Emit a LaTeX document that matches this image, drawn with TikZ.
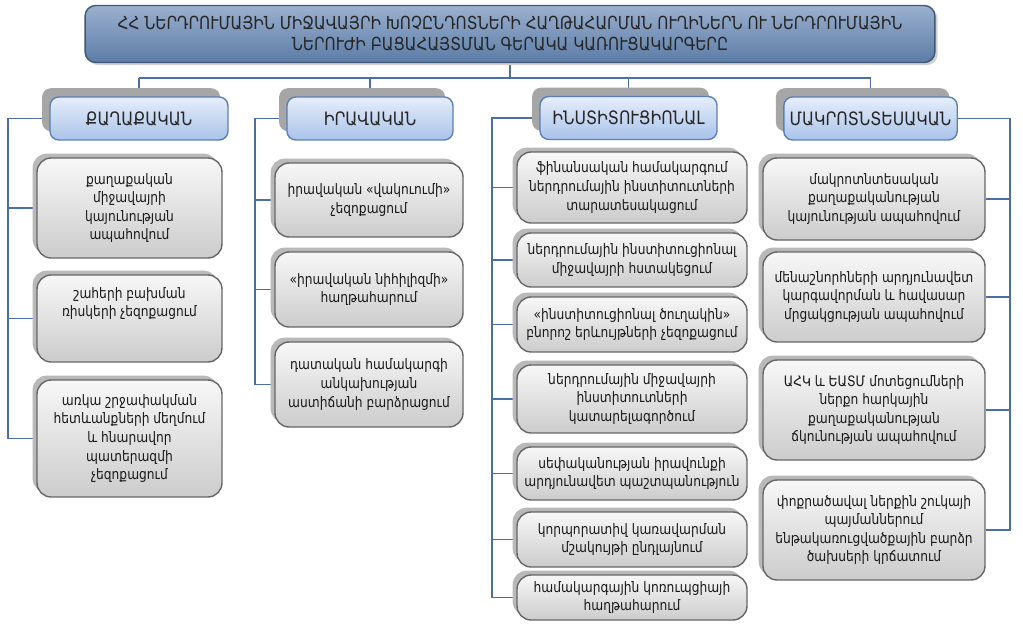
\documentclass[tikz,border=0pt]{standalone}
\usepackage{fontspec}
\setmainfont{DejaVu Sans}[FakeStretch=0.85]
\usetikzlibrary{shadows,backgrounds}

\definecolor{linkblue}{HTML}{4A6FA5}
\definecolor{titletop}{HTML}{9AB0CF}
\definecolor{titlebot}{HTML}{5C7CA6}
\definecolor{titleline}{HTML}{3F5877}
\definecolor{headtop}{HTML}{E6EEFA}
\definecolor{headbot}{HTML}{A9C3EA}
\definecolor{headline}{HTML}{5A7EB8}

\tikzset{
  titlebox/.style={draw=titleline, line width=0.8pt, rounded corners=6pt, top color=titletop, bottom color=titlebot, text=black!85, align=center, font=\fontsize{10.2}{12}\selectfont, general shadow={fill=gray!35, shadow xshift=1.5pt, shadow yshift=-1.5pt}},
  headbox/.style={draw=headline, line width=0.8pt, rounded corners=5pt, top color=headtop, bottom color=headbot, text=black!85, minimum height=0.86cm, font=\fontsize{10.5}{12}\selectfont, general shadow={fill=gray!70, shadow xshift=-4.5pt, shadow yshift=5pt}},
  itembox/.style={draw=black!60, line width=0.8pt, rounded corners=8pt, top color=gray!6, bottom color=gray!40, text=black!90, align=center, font=\fontsize{8.2}{10.6}\selectfont, general shadow={fill=gray!55, shadow xshift=-2.5pt, shadow yshift=2.5pt}},
  link/.style={draw=linkblue, line width=1.1pt}
}

\begin{document}
\begin{tikzpicture}[x=0.02cm, y=-0.02cm]
	\useasboundingbox (0,0) rectangle (1023,628);

	% title
	\node[titlebox, minimum width=17cm, minimum height=1.14cm] (title) at (510,34) {ՀՀ ՆԵՐԴՐՈՒՄԱՅԻՆ ՄԻՋԱՎԱՅՐԻ ԽՈՉԸՆԴՈՏՆԵՐԻ ՀԱՂԹԱՀԱՐՄԱՆ ՈՒՂԻՆԵՐՆ ՈՒ ՆԵՐԴՐՈՒՄԱՅԻՆ\\ՆԵՐՈՒԺԻ ԲԱՑԱՀԱՅՏՄԱՆ ԳԵՐԱԿԱ ԿԱՌՈՒՑԱԿԱՐԳԵՐԸ};

	% headers
	\node[headbox, minimum width=3.56cm] (hdr1) at (139,118.5) {ՔԱՂԱՔԱԿԱՆ};
	\node[headbox, minimum width=3.32cm] (hdr2) at (370,118.5) {ԻՐԱՎԱԿԱՆ};
	\node[headbox, minimum width=3.54cm] (hdr3) at (628.5,118) {ԻՆՍՏԻՏՈՒՑԻՈՆԱԼ};
	\node[headbox, minimum width=3.3cm] (hdr4) at (870.5,118.5) {ՄԱԿՐՈՏՆՏԵՍԱԿԱՆ};

	% political
	\node[itembox, minimum width=3.7cm, minimum height=2cm] (p11) at (129.5,208) {քաղաքական\\միջավայրի\\կայունության\\ապահովում};
	\node[itembox, minimum width=3.7cm, minimum height=1.74cm] (p12) at (129.5,318.5) {շահերի բախման\\ռիսկերի չեզոքացում\\[8pt]};
	\node[itembox, minimum width=3.7cm, minimum height=2.34cm] (p13) at (129.5,438.5) {առկա շրջափակման\\հետևանքների մեղմում\\և հնարավոր\\պատերազմի\\չեզոքացում};

	% legal
	\node[itembox, minimum width=3.76cm, minimum height=1.48cm] (p21) at (369,200) {իրավական «վակուումի»\\չեզոքացում};
	\node[itembox, minimum width=3.76cm, minimum height=1.5cm] (p22) at (369,289.5) {«իրավական նիհիլիզմի»\\հաղթահարում};
	\node[itembox, minimum width=3.76cm, minimum height=1.7cm] (p23) at (369,384.5) {դատական համակարգի\\անկախության\\աստիճանի բարձրացում};

	% institutional
	\node[itembox, minimum width=4.6cm, minimum height=1.42cm] (p31) at (632,187.5) {ֆինանսական համակարգում\\ներդրումային ինստիտուտների\\տարատեսակացում};
	\node[itembox, minimum width=4.6cm, minimum height=1.08cm] (p32) at (632,260) {ներդրումային ինստիտուցիոնալ\\միջավայրի հստակեցում};
	\node[itembox, minimum width=4.6cm, minimum height=1.1cm] (p33) at (632,324.5) {«ինստիտուցիոնալ ծուղակին»\\բնորոշ երևույթների չեզոքացում};
	\node[itembox, minimum width=4.6cm, minimum height=1.36cm] (p34) at (632,399) {ներդրումային միջավայրի\\ինստիտուտների\\կատարելագործում};
	\node[itembox, minimum width=4.6cm, minimum height=1.06cm] (p35) at (632,473.5) {սեփականության իրավունքի\\արդյունավետ պաշտպանություն};
	\node[itembox, minimum width=4.6cm, minimum height=1.1cm] (p36) at (632,539.5) {կորպորատիվ կառավարման\\մշակույթի ընդլայնում};
	\node[itembox, minimum width=4.6cm, minimum height=0.9cm] (p37) at (632,597.5) {համակարգային կոռուպցիայի\\հաղթահարում};

	% macroeconomic
	\node[itembox, minimum width=4.44cm, minimum height=1.64cm] (p41) at (874,199) {մակրոտնտեսական\\քաղաքականության\\կայունության ապահովում};
	\node[itembox, minimum width=4.44cm, minimum height=1.8cm] (p42) at (874,297) {մենաշնորհների արդյունավետ\\կարգավորման և հավասար\\մրցակցության ապահովում};
	\node[itembox, minimum width=4.44cm, minimum height=2cm] (p43) at (874,410) {ԱՀԿ և ԵԱՏՄ մոտեցումների\\ներքո հարկային\\քաղաքականության\\ճկունության ապահովում};
	\node[itembox, minimum width=4.44cm, minimum height=2cm] (p44) at (874,530) {փոքրածավալ ներքին շուկայի\\պայմաններում\\ենթակառուցվածքային բարձր\\ծախսերի կրճատում};

	% connectors
	\coordinate (hub) at (510,78);
	\coordinate (bus1) at (8,0);
	\coordinate (bus2) at (255,0);
	\coordinate (bus3) at (492,0);
	\coordinate (bus4) at (1010,0);
	\begin{scope}[on background layer]
		\draw[link] (title.south) -- (title.south |- hub);
		\draw[link] (hdr1.north |- hub) -- (hdr4.north |- hub);
		\foreach \h in {hdr1,hdr2,hdr3,hdr4}
			\draw[link] (\h.north |- hub) -- (\h.north);
		\draw[link] (hdr1.west) -- (hdr1.west -| bus1) -- (p13.west -| bus1) -- (p13.west);
		\draw[link] (hdr2.west) -- (hdr2.west -| bus2) -- (p23.west -| bus2) -- (p23.west);
		\draw[link] (hdr3.west) -- (hdr3.west -| bus3) -- (p37.west -| bus3) -- (p37.west);
		\draw[link] (hdr4.east) -- (hdr4.east -| bus4) -- (p44.east -| bus4) -- (p44.east);
		\foreach \p in {p11,p12}
			\draw[link] (\p.west -| bus1) -- (\p.west);
		\foreach \p in {p21,p22}
			\draw[link] (\p.west -| bus2) -- (\p.west);
		\foreach \p in {p31,p32,p33,p34,p35,p36}
			\draw[link] (\p.west -| bus3) -- (\p.west);
		\foreach \p in {p41,p42,p43}
			\draw[link] (\p.east -| bus4) -- (\p.east);
	\end{scope}
\end{tikzpicture}
\end{document}
